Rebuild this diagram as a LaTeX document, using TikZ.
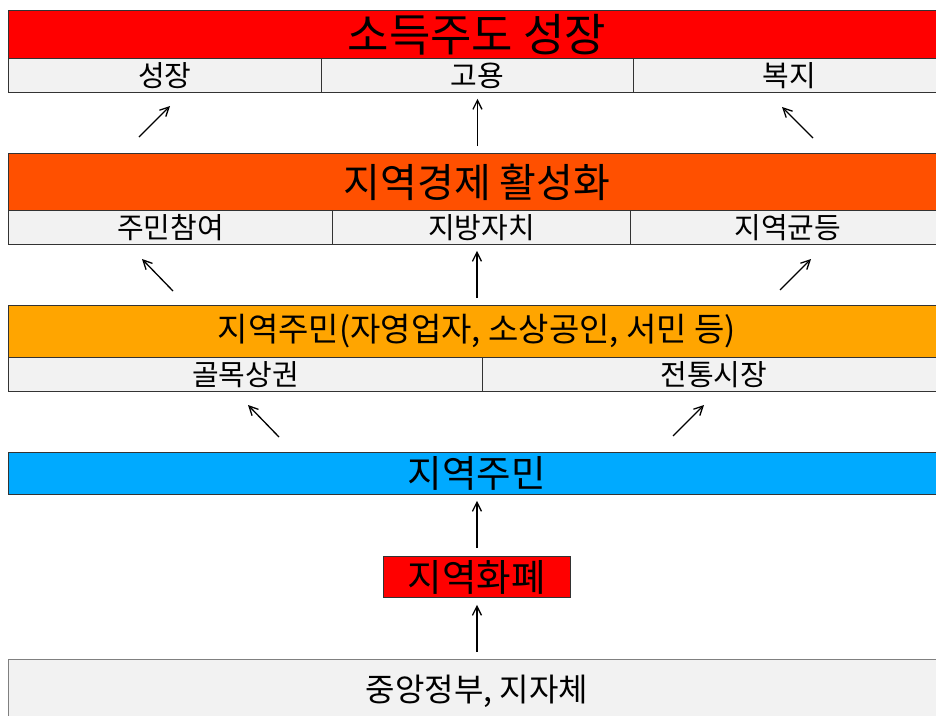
\documentclass[tikz,border=0pt]{standalone}
\usepackage{fontspec}
\setmainfont{Noto Sans CJK KR}
\usetikzlibrary{arrows.meta}
\definecolor{cRed}{HTML}{FF0000}
\definecolor{cOrange}{HTML}{FF5000}
\definecolor{cAmber}{HTML}{FFA500}
\definecolor{cBlue}{HTML}{00AAFF}
\definecolor{cGray}{HTML}{F2F2F2}
\definecolor{cLine}{HTML}{333333}
\begin{document}
\begin{tikzpicture}[x=1pt,y=-1pt,
  box/.style={draw=cLine, line width=0.9pt, anchor=north west, inner sep=0pt},
  cell/.style={box, fill=cGray, minimum height=34pt, font=\fontsize{29}{32}\selectfont},
  arr/.style={-{Straight Barb[length=9pt,width=9pt]}, line width=1.3pt}]
\clip (0,0) rectangle (936,715);
\fill[white] (0,0) rectangle (936,715);
% row 1
\node[box, fill=cRed, minimum width=937pt, minimum height=48pt, font=\fontsize{45}{48}\selectfont] (t1) at (8,10) {소득주도 성장};
\node[cell, minimum width=313pt] (c11) at (8,58) {성장};
\node[cell, minimum width=312pt] (c12) at (321,58) {고용};
\node[cell, minimum width=312pt] (c13) at (633,58) {복지};
% row 2
\node[box, fill=cOrange, minimum width=937pt, minimum height=57pt, font=\fontsize{40}{44}\selectfont] (t2) at (8,153) {지역경제 활성화};
\node[cell, minimum width=324pt] (c21) at (8,210) {주민참여};
\node[cell, minimum width=298pt] (c22) at (332,210) {지방자치};
\node[cell, minimum width=315pt] (c23) at (630,210) {지역균등};
% row 3
\node[box, fill=cAmber, minimum width=937pt, minimum height=52pt, font=\fontsize{33}{36}\selectfont] (t3) at (8,305) {지역주민(자영업자, 소상공인, 서민 등)};
\node[cell, minimum width=474pt] (c31) at (8,357) {골목상권};
\node[cell, minimum width=463pt] (c32) at (482,357) {전통시장};
% row 4
\node[box, fill=cBlue, minimum width=937pt, minimum height=42pt, font=\fontsize{37.5}{40}\selectfont] (t4) at (8,452) {지역주민};
\node[box, fill=cRed, minimum width=187pt, minimum height=41pt, font=\fontsize{37.5}{40}\selectfont] (lc) at (383,556) {지역화폐};
\node[box, draw=gray, fill=cGray, minimum width=937pt, minimum height=64pt, font=\fontsize{32}{36}\selectfont] (gov) at (8,659) {중앙정부, 지자체};
% arrow end points
\coordinate (a1s) at (139,137); \coordinate (a1e) at (170,106);
\coordinate (a3s) at (813,138); \coordinate (a3e) at (782,107);
\coordinate (b1s) at (173,291); \coordinate (b1e) at (142,259);
\coordinate (b3s) at (780,290); \coordinate (b3e) at (811,259);
\coordinate (c1s) at (279,437); \coordinate (c1e) at (248,405);
\coordinate (c2s) at (673,436); \coordinate (c2e) at (704,405);
\draw[arr] (a1s) -- (a1e);
\draw[arr] (a3s) -- (a3e);
\draw[arr] (b1s) -- (b1e);
\draw[arr] (b3s) -- (b3e);
\draw[arr] (c1s) -- (c1e);
\draw[arr] (c2s) -- (c2e);
\draw[arr, shorten <=7pt, shorten >=6pt] (t2.north -| c12.south) -- (c12.south);
\draw[arr, shorten <=7pt, shorten >=6pt] (t3.north) -- (t3.north |- c22.south);
\draw[arr, shorten <=8pt, shorten >=6pt] (lc.north) -- (lc.north |- t4.south);
\draw[arr, shorten <=7pt, shorten >=7pt] (gov.north) -- (lc.south);
\end{tikzpicture}
\end{document}
